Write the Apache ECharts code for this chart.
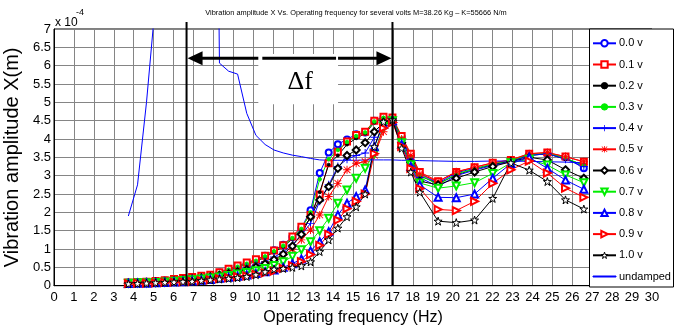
<!DOCTYPE html>
<html>
<head>
<meta charset="utf-8">
<script src="https://cdn.jsdelivr.net/npm/echarts@6/dist/echarts.min.js"></script>
<style>
html, body { margin: 0; padding: 0; background: #fff; }
#main { width: 683px; height: 331px; }
</style>
</head>
<body>
<div id="main"></div>
<script>
// operating frequencies (Hz)
var freq = [3.73, 4.19, 4.64, 5.10, 5.56, 6.02, 6.47, 6.93, 7.39, 7.84, 8.30, 8.76, 9.21, 9.67, 10.13, 10.59, 11.04, 11.50, 11.96, 12.41, 12.87, 13.33, 13.78, 14.24, 14.70, 15.16, 15.61, 16.07, 16.53, 16.98, 17.44, 17.90, 18.35, 19.27, 20.18, 21.10, 22.01, 22.92, 23.84, 24.75, 25.66, 26.58];

// amplitudes, x 1e-4 m
var v00 = [0.09, 0.10, 0.11, 0.12, 0.14, 0.17, 0.20, 0.23, 0.26, 0.29, 0.36, 0.45, 0.53, 0.62, 0.70, 0.82, 0.97, 1.12, 1.33, 1.57, 2.06, 3.07, 3.63, 3.86, 3.99, 4.13, 4.18, 4.50, 4.59, 4.57, 4.05, 3.55, 3.05, 2.80, 3.08, 3.20, 3.30, 3.42, 3.57, 3.60, 3.50, 3.20];
var v01 = [0.09, 0.10, 0.11, 0.13, 0.15, 0.18, 0.21, 0.24, 0.27, 0.30, 0.37, 0.46, 0.55, 0.63, 0.72, 0.82, 0.96, 1.10, 1.34, 1.61, 1.93, 2.49, 3.34, 3.65, 3.93, 4.11, 4.20, 4.50, 4.61, 4.59, 4.08, 3.60, 3.10, 2.85, 3.10, 3.23, 3.35, 3.43, 3.60, 3.63, 3.52, 3.38];
var v02 = [0.08, 0.09, 0.10, 0.12, 0.14, 0.16, 0.19, 0.22, 0.25, 0.28, 0.34, 0.42, 0.50, 0.58, 0.66, 0.78, 0.92, 1.06, 1.28, 1.52, 1.85, 2.55, 3.30, 3.55, 3.85, 4.02, 4.15, 4.45, 4.58, 4.55, 4.00, 3.50, 3.00, 2.78, 3.02, 3.18, 3.30, 3.40, 3.55, 3.60, 3.45, 3.30];
var v03 = [0.09, 0.10, 0.11, 0.12, 0.14, 0.17, 0.20, 0.23, 0.26, 0.29, 0.35, 0.44, 0.52, 0.60, 0.68, 0.80, 0.94, 1.09, 1.30, 1.55, 2.00, 2.90, 3.45, 3.70, 3.92, 4.08, 4.18, 4.48, 4.58, 4.56, 4.02, 3.52, 3.02, 2.75, 3.05, 3.18, 3.32, 3.42, 3.56, 3.62, 3.48, 3.28];
var v04 = [0.08, 0.09, 0.10, 0.11, 0.13, 0.15, 0.17, 0.20, 0.23, 0.26, 0.30, 0.36, 0.42, 0.50, 0.57, 0.66, 0.78, 0.92, 1.12, 1.38, 1.70, 2.30, 2.75, 3.25, 3.45, 3.55, 3.62, 4.05, 4.45, 4.55, 3.95, 3.45, 2.95, 2.70, 3.00, 3.15, 3.28, 3.38, 3.55, 3.60, 3.45, 3.25];
var v05 = [0.08, 0.09, 0.10, 0.11, 0.12, 0.14, 0.16, 0.19, 0.22, 0.25, 0.29, 0.34, 0.39, 0.44, 0.50, 0.58, 0.68, 0.82, 1.00, 1.25, 1.52, 1.93, 2.43, 2.79, 3.16, 3.34, 3.38, 3.56, 4.20, 4.47, 4.00, 3.55, 3.05, 2.84, 3.11, 3.23, 3.35, 3.43, 3.60, 3.63, 3.52, 3.38];
var v06 = [0.07, 0.08, 0.09, 0.10, 0.11, 0.13, 0.15, 0.18, 0.21, 0.24, 0.28, 0.33, 0.38, 0.44, 0.51, 0.60, 0.71, 0.86, 1.08, 1.40, 1.88, 2.34, 2.70, 3.20, 3.55, 3.70, 3.90, 4.20, 4.45, 4.50, 3.90, 3.35, 2.85, 2.75, 2.93, 3.10, 3.25, 3.38, 3.50, 3.43, 3.16, 2.93];
var v07 = [0.07, 0.08, 0.08, 0.09, 0.10, 0.12, 0.14, 0.16, 0.18, 0.21, 0.24, 0.28, 0.32, 0.36, 0.41, 0.47, 0.55, 0.65, 0.80, 0.98, 1.20, 1.50, 1.84, 2.25, 2.61, 2.93, 3.20, 3.61, 4.35, 4.50, 3.90, 3.30, 2.80, 2.66, 2.72, 2.81, 3.06, 3.35, 3.45, 3.29, 3.02, 2.81];
var v08 = [0.06, 0.07, 0.07, 0.08, 0.09, 0.10, 0.11, 0.13, 0.15, 0.17, 0.20, 0.23, 0.26, 0.29, 0.33, 0.38, 0.43, 0.50, 0.60, 0.73, 0.95, 1.20, 1.47, 1.93, 2.25, 2.43, 2.61, 3.79, 4.40, 4.50, 3.85, 3.25, 2.75, 2.41, 2.40, 2.50, 2.93, 3.33, 3.50, 3.20, 2.88, 2.63];
var v09 = [0.06, 0.07, 0.07, 0.08, 0.09, 0.10, 0.11, 0.12, 0.14, 0.16, 0.19, 0.22, 0.25, 0.27, 0.31, 0.35, 0.40, 0.47, 0.55, 0.66, 0.85, 1.10, 1.40, 1.79, 2.10, 2.30, 2.50, 3.60, 4.30, 4.45, 3.80, 3.20, 2.65, 2.08, 2.05, 2.30, 2.79, 3.16, 3.40, 3.07, 2.66, 2.41];
var v10 = [0.05, 0.06, 0.07, 0.08, 0.09, 0.10, 0.11, 0.12, 0.14, 0.16, 0.18, 0.20, 0.22, 0.25, 0.30, 0.38, 0.45, 0.47, 0.50, 0.54, 0.65, 0.93, 1.25, 1.57, 1.88, 2.15, 2.50, 3.79, 4.47, 4.52, 3.75, 3.10, 2.55, 1.76, 1.72, 1.79, 2.38, 3.35, 3.15, 2.84, 2.34, 2.09];
// undamped (values above 7 run off the top of the axes)
var undamped = [1.90, 2.75, 5.00, 7.80, 15, 60, 60, 25, 18, 30, 6.07, 5.85, 5.77, 4.70, 4.10, 3.85, 3.70, 3.62, 3.56, 3.52, 3.47, 3.43, 3.42, 3.42, 3.42, 3.42, 3.43, 3.43, 3.43, 3.43, 3.42, 3.42, 3.41, 3.40, 3.39, 3.39, 3.40, 3.40, 3.39, 3.38, 3.37, 3.35];

var names = ['0.0 v', '0.1 v', '0.2 v', '0.3 v', '0.4 v', '0.5 v', '0.6 v', '0.7 v', '0.8 v', '0.9 v', '1.0 v', 'undamped'];

// delta-f annotation: band edges (Hz), arrow level, label position
var bandEdges = [6.65, 16.98];
var arrowLevel = 6.2;
var labelPos = [12.35, 5.55];
var labelBox = [10.25, 14.25, 4.95, 6.32];

var sans = "'Liberation Sans', Arial, sans-serif";

var plusPath = 'path://M4.4,0H5.6V4.4H10V5.6H5.6V10H4.4V5.6H0V4.4H4.4Z';
var starPath = 'path://M4.4,0H5.6V4.4H10V5.6H5.6V10H4.4V5.6H0V4.4H4.4Z M1.2,0.4L5,4.2L8.8,0.4L9.6,1.2L5.8,5L9.6,8.8L8.8,9.6L5,5.8L1.2,9.6L0.4,8.8L4.2,5L0.4,1.2Z';
var pentaPath = 'path://M5,0L6.2,3.6L10,3.6L6.9,5.9L8.1,9.5L5,7.3L1.9,9.5L3.1,5.9L0,3.6L3.8,3.6Z';

function pairs(ys) {
	var out = [];
	for (var i = 0; i < freq.length; i++) out.push([freq[i], ys[i]]);
	return out;
}

function mkSeries(name, ys, color, symbol, size, extra) {
	var s = {
		name: name,
		type: 'line',
		data: pairs(ys),
		symbol: symbol,
		symbolSize: size,
		showAllSymbol: true,
		animation: false,
		lineStyle: { color: color, width: 1 },
		itemStyle: { color: color, borderColor: color, borderWidth: 1 },
		emphasis: { disabled: true }
	};
	for (var k in extra) s[k] = extra[k];
	return s;
}

var chart = echarts.init(document.getElementById('main'));

var series = [
	mkSeries(names[0], v00, '#0000ff', 'emptyCircle', 6),
	mkSeries(names[1], v01, '#ff0000', 'emptyRect', 6),
	mkSeries(names[2], v02, '#000000', 'circle', 3),
	mkSeries(names[3], v03, '#00ee00', 'circle', 3.5),
	mkSeries(names[4], v04, '#0000ff', plusPath, 8, { itemStyle: { color: '#0000ff', borderWidth: 0 } }),
	mkSeries(names[5], v05, '#ff0000', starPath, 8, { itemStyle: { color: '#ff0000', borderWidth: 0 } }),
	mkSeries(names[6], v06, '#000000', 'emptyDiamond', 7),
	mkSeries(names[7], v07, '#00ee00', 'emptyTriangle', 7, { symbolRotate: 180 }),
	mkSeries(names[8], v08, '#0000ff', 'emptyTriangle', 7),
	mkSeries(names[9], v09, '#ff0000', 'emptyTriangle', 7, { symbolRotate: -90 }),
	mkSeries(names[10], v10, '#000000', pentaPath, 8, { itemStyle: { color: '#ffffff', borderColor: '#000000', borderWidth: 1 } }),
	mkSeries(names[11], undamped, '#0000ff', 'none', 0)
];

// delta-f band: two vertical lines, double arrow, label
series.push({
	type: 'custom',
	name: 'band',
	silent: true,
	animation: false,
	clip: false,
	z: 5,
	data: [[bandEdges[0], bandEdges[1], arrowLevel]],
	renderItem: function(params, api) {
		var a = api.coord([api.value(0), 0]);
		var b = api.coord([api.value(1), 0]);
		var top = api.coord([api.value(0), 7])[1] - 7;
		var ay = api.coord([0, api.value(2)])[1];
		var bx0 = api.coord([labelBox[0], labelBox[3]]);
		var bx1 = api.coord([labelBox[1], labelBox[2]]);
		var lp = api.coord(labelPos);
		var head = 15, hh = 7;
		return {
			type: 'group',
			children: [
				{ type: 'rect', shape: { x: bx0[0], y: bx0[1], width: bx1[0] - bx0[0], height: bx1[1] - bx0[1] }, style: { fill: '#fff' } },
				{ type: 'line', shape: { x1: a[0], y1: top, x2: a[0], y2: a[1] }, style: { stroke: '#000', lineWidth: 2 } },
				{ type: 'line', shape: { x1: b[0], y1: top, x2: b[0], y2: b[1] }, style: { stroke: '#000', lineWidth: 2 } },
				{ type: 'line', shape: { x1: a[0] + head, y1: ay, x2: bx0[0], y2: ay }, style: { stroke: '#000', lineWidth: 3 } },
				{ type: 'line', shape: { x1: bx0[0] + 4, y1: ay, x2: bx1[0] - 2, y2: ay }, style: { stroke: '#000', lineWidth: 3 } },
				{ type: 'line', shape: { x1: bx1[0], y1: ay, x2: b[0] - head, y2: ay }, style: { stroke: '#000', lineWidth: 3 } },
				{ type: 'polygon', shape: { points: [[a[0] + 1, ay], [a[0] + head + 1, ay - hh], [a[0] + head + 1, ay + hh]] }, style: { fill: '#000' } },
				{ type: 'polygon', shape: { points: [[b[0] - 1, ay], [b[0] - head - 1, ay - hh], [b[0] - head - 1, ay + hh]] }, style: { fill: '#000' } },
				{ type: 'text', x: lp[0], y: lp[1], style: { text: 'Δf', fill: '#000', font: '26px "Liberation Serif", "Times New Roman", serif', align: 'center', verticalAlign: 'middle' } }
			]
		};
	}
});

var legendData = [];
for (var i = 0; i < names.length; i++) legendData.push({ name: names[i] });
legendData[11].icon = 'path://M0,9.5H46V11.5H0Z';

var option = {
	backgroundColor: '#fff',
	animation: false,
	grid: { left: 54, top: 29, right: 31, bottom: 45.3, containLabel: false, outerBoundsMode: 'none', show: true, borderColor: '#000', borderWidth: 1, backgroundColor: '#fff' },
	xAxis: {
		type: 'value', min: 0, max: 30, interval: 1,
		name: 'Operating frequency (Hz)', nameLocation: 'middle', nameGap: 24,
		nameTextStyle: { fontFamily: sans, fontSize: 16, color: '#000' },
		axisLine: { lineStyle: { color: '#000', width: 1 } },
		axisTick: { show: false },
		axisLabel: { fontFamily: sans, fontSize: 13, color: '#000', margin: 5 },
		splitLine: { show: true, lineStyle: { color: '#858585', width: 1 } }
	},
	yAxis: {
		type: 'value', min: 0, max: 7, interval: 0.5,
		name: 'Vibration amplitude X(m)', nameLocation: 'middle', nameGap: 22,
		nameTextStyle: { fontFamily: sans, fontSize: 20, color: '#000' },
		axisLine: { show: true, lineStyle: { color: '#000', width: 1 } },
		axisTick: { show: false },
		axisLabel: { fontFamily: sans, fontSize: 13, color: '#000', margin: 3 },
		splitLine: { show: true, lineStyle: { color: '#858585', width: 1 } }
	},
	legend: {
		orient: 'vertical', left: 592, top: 37.3, padding: 0, z: 10,
		itemWidth: 23, itemHeight: 8, itemGap: 9.2,
		selectedMode: false,
		itemStyle: { borderWidth: 1 },
		textStyle: { fontFamily: sans, fontSize: 11, lineHeight: 12, color: '#000', padding: [0, 0, 0, -2] },
		data: legendData
	},
	graphic: [
		{ type: 'rect', z: 8, shape: { x: 589.5, y: 29, width: 84, height: 258 }, style: { fill: '#fff', stroke: '#000', lineWidth: 1 } },
		{ type: 'text', z: 8, x: 356, y: 13, style: { text: 'Vibration amplitude X Vs. Operating frequency for several volts M=38.26 Kg – K=55666 N/m', font: '7.4px ' + sans, fill: '#000', align: 'center', verticalAlign: 'middle' } },
		{ type: 'text', z: 8, x: 55, y: 23, style: { text: 'x 10', font: '12px ' + sans, fill: '#000', verticalAlign: 'middle' } },
		{ type: 'text', z: 8, x: 76, y: 13, style: { text: '-4', font: '9px ' + sans, fill: '#000', verticalAlign: 'middle' } }
	],
	series: series
};

chart.setOption(option);
</script>
